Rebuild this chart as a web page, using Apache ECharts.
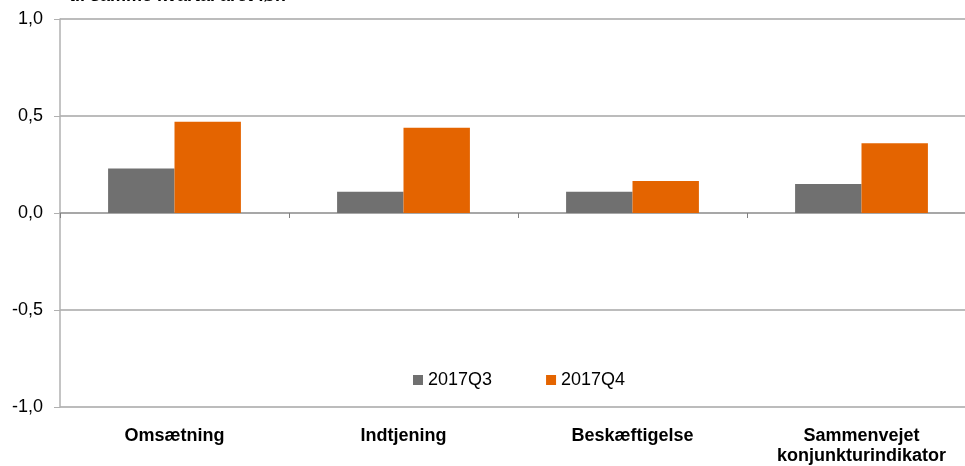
<!DOCTYPE html>
<html>
<head>
<meta charset="utf-8">
<script src="https://cdn.jsdelivr.net/npm/echarts@6/dist/echarts.min.js"></script>
<style>
  html, body { margin: 0; padding: 0; background: #fff; overflow: hidden; }
  /* plotområdet går lidt ud over højre kant, som i originalen */
  #main { width: 976px; height: 466px; }
</style>
</head>
<body>
<div id="main"></div>
<script>
// data
const categories = ['Omsætning', 'Indtjening', 'Beskæftigelse', 'Sammenvejet\nkonjunkturindikator'];
const q3Values = [0.23, 0.11, 0.11, 0.15];
const q4Values = [0.47, 0.44, 0.165, 0.36];
const seriesNames = ['2017Q3', '2017Q4'];

const myChart = echarts.init(document.getElementById('main'));

const font = 'Liberation Sans, Arial, sans-serif';

let option = {
  animation: false,
  textStyle: { fontFamily: font },
  title: {
    text: 'til samme kvartal året før.',
    left: 64,
    top: -18,
    textStyle: { fontFamily: font, fontSize: 18, fontWeight: 'bold', color: '#000' }
  },
  legend: {
    data: seriesNames,
    left: 413,
    top: 371,
    padding: 0,
    itemWidth: 10,
    itemHeight: 10,
    itemGap: 54,
    icon: 'rect',
    textStyle: { fontFamily: font, fontSize: 18, color: '#000' }
  },
  grid: {
    left: 60,
    right: 0,
    top: 19,
    bottom: 59,
    containLabel: false
  },
  xAxis: [
    {
      // nullinje med streger mellem kategorierne
      type: 'category',
      data: categories,
      axisLine: { onZero: true, lineStyle: { color: '#a0a0a0', width: 1.5 } },
      axisTick: { show: true, length: 5, lineStyle: { color: '#808080' } },
      axisLabel: { show: false }
    },
    {
      // etiketter i bunden
      type: 'category',
      data: categories,
      position: 'bottom',
      axisLine: { show: false, onZero: false },
      axisTick: { show: false },
      axisLabel: {
        margin: 19,
        interval: 0,
        fontFamily: font,
        fontSize: 18,
        fontWeight: 'bold',
        color: '#000',
        lineHeight: 20
      }
    }
  ],
  yAxis: {
    type: 'value',
    min: -1,
    max: 1,
    interval: 0.5,
    axisLine: { show: true, lineStyle: { color: '#b0b0b0', width: 1.5 } },
    axisTick: { show: true, length: 6, lineStyle: { color: '#b0b0b0' } },
    splitLine: { show: true, lineStyle: { color: '#a6a6a6', width: 1.5 } },
    axisLabel: {
      margin: 17,
      fontFamily: font,
      fontSize: 18,
      color: '#000',
      formatter: function (v) { return v.toFixed(1).replace('.', ','); }
    }
  },
  series: [
    {
      name: seriesNames[0],
      type: 'bar',
      data: q3Values,
      barGap: '0%',
      barCategoryGap: '42%',
      itemStyle: { color: '#707070' }
    },
    {
      name: seriesNames[1],
      type: 'bar',
      data: q4Values,
      barGap: '0%',
      barCategoryGap: '42%',
      itemStyle: { color: '#e46400' }
    }
  ]
};

myChart.setOption(option);
</script>
</body>
</html>
